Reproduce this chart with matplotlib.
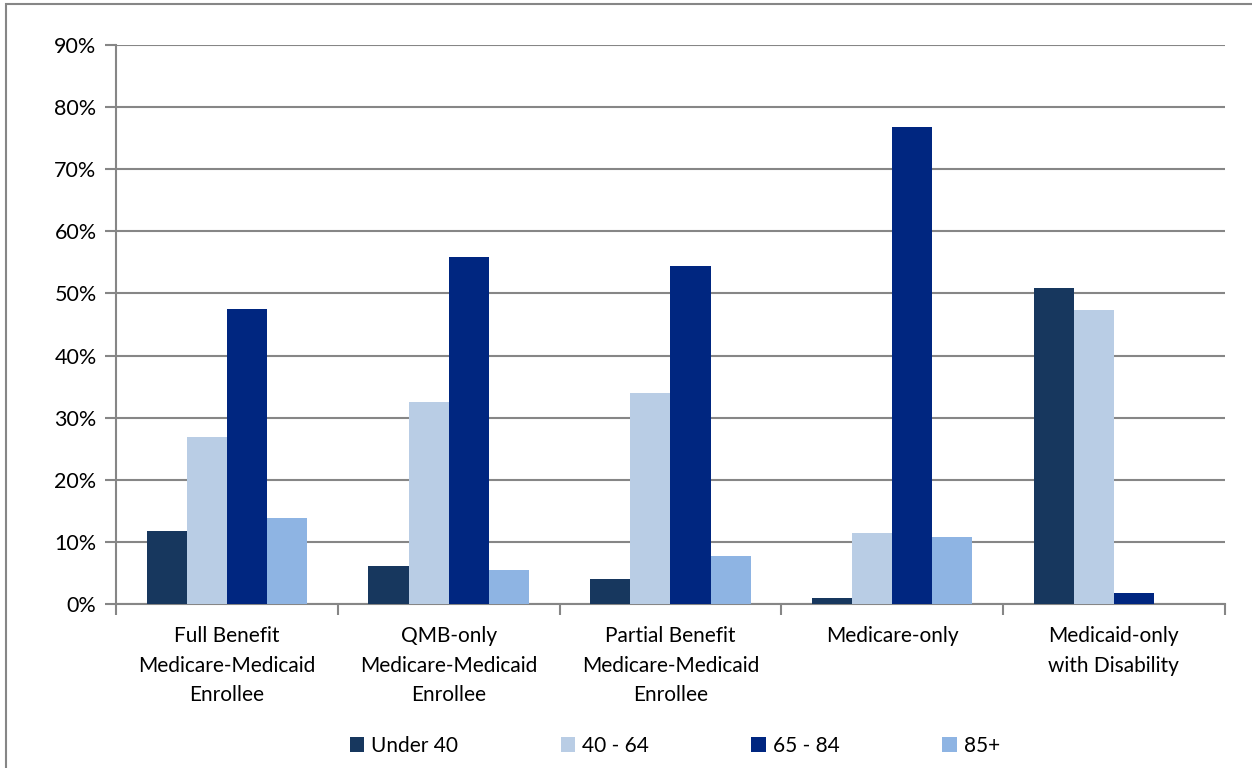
import numpy as np
import matplotlib.pyplot as plt
from matplotlib.patches import Rectangle
from matplotlib.ticker import FuncFormatter

plt.rcParams['font.family'] = ['Lato', 'DejaVu Sans']

# data (percent)
categories = ['Full Benefit\nMedicare-Medicaid\nEnrollee',
              'QMB-only\nMedicare-Medicaid\nEnrollee',
              'Partial Benefit\nMedicare-Medicaid\nEnrollee',
              'Medicare-only',
              'Medicaid-only\nwith Disability']
series = ['Under 40', '40 - 64', '65 - 84', '85+']
under40 = [11.8, 6.1, 4.0, 1.0, 50.8]
age40_64 = [26.9, 32.5, 33.9, 11.4, 47.4]
age65_84 = [47.5, 55.8, 54.4, 76.8, 1.8]
age85 = [13.9, 5.5, 7.8, 10.8, 0.0]
colors = ['#17375E', '#B9CDE5', '#002680', '#8EB4E3']

values = [under40, age40_64, age65_84, age85]

fig = plt.figure(figsize=(12.52, 7.68), dpi=100)
ax = fig.add_axes([0.0927, 0.2135, 0.8855, 0.7279])

# outer frame like the pasted chart object
fig.patches.append(Rectangle((6 / 1252, -0.05), 1.1, 0.05 + 764 / 768,
                             transform=fig.transFigure, fill=False,
                             edgecolor='#868686', lw=1.5, zorder=0))

x = np.arange(len(categories))
w = 0.181
for i, (name, vals) in enumerate(zip(series, values)):
    ax.bar(x + (i - 1.5) * w, vals, w, color=colors[i], label=name, zorder=3)

ax.set_xlim(-0.5, len(categories) - 0.5)
ax.set_ylim(0, 90)
ax.set_yticks(np.arange(0, 91, 10))
ax.yaxis.set_major_formatter(FuncFormatter(lambda v, p: '%d%%' % v))
ax.grid(axis='y', color='#868686', lw=1.5, zorder=0)

ax.set_xticks(np.arange(-0.5, len(categories), 1))
ax.set_xticklabels([])
ax.set_xticks(x, minor=True)
ax.set_xticklabels(categories, minor=True, fontsize=15, linespacing=1.58)
ax.tick_params(axis='x', which='minor', length=0, pad=16)
ax.tick_params(axis='x', which='major', length=8, width=1.5, color='#868686')
ax.tick_params(axis='y', length=8, width=1.5, color='#868686', labelsize=15.5, pad=6)

for s in ['top', 'right']:
    ax.spines[s].set_visible(False)
for s in ['left', 'bottom']:
    ax.spines[s].set_color('#868686')
    ax.spines[s].set_linewidth(1.5)

fig.legend(loc='center', bbox_to_anchor=(0.539, 0.029), ncol=4, frameon=False,
           fontsize=15, handlelength=0.7, handleheight=0.7, handletextpad=0.35,
           columnspacing=4.9)

plt.savefig('out.png', dpi=100)
